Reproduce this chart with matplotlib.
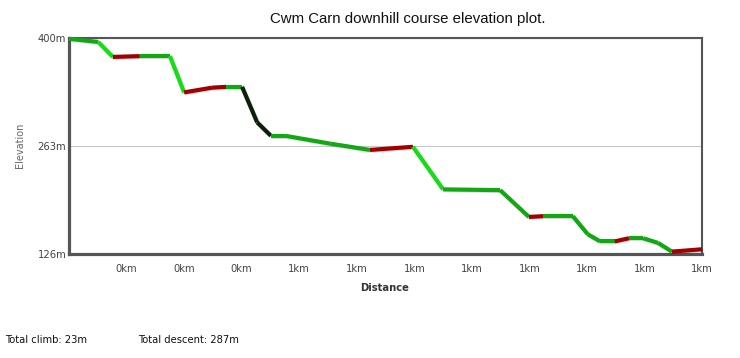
import numpy as np
import matplotlib
matplotlib.use("Agg")
import matplotlib.pyplot as plt
from matplotlib import patheffects as pe

# distance along the course (km) and elevation (m) at each vertex
distancia_km = [0.000, 0.066, 0.099, 0.160, 0.228, 0.260, 0.323, 0.355, 0.391,
                0.425, 0.456, 0.488, 0.590, 0.680, 0.777, 0.845, 0.974, 1.039,
                1.071, 1.138, 1.172, 1.200, 1.233, 1.265, 1.297, 1.331, 1.362,
                1.430]
elevacao_m = [399, 395, 376, 377, 377, 331, 337, 338, 338,
              293, 276, 276, 266, 258, 262, 208, 207, 173,
              174, 174, 151, 142, 142, 146, 146, 140, 129,
              132]
# gradient class of each segment between consecutive vertices
classe_segmento = ['suave', 'ingreme', 'subida', 'suave', 'ingreme', 'subida', 'subida',
                   'suave', 'muito', 'muito', 'suave', 'suave', 'suave', 'subida',
                   'ingreme', 'suave', 'suave', 'subida', 'suave', 'suave', 'suave',
                   'suave', 'subida', 'suave', 'suave', 'suave', 'subida']
ticks_y = [126, 263, 400]
total_subida = 23
total_descida = 287
distancia_total = distancia_km[-1]

cores = {'suave': '#12a812', 'ingreme': '#18dc18', 'subida': '#a00000', 'muito': '#0c200c'}

fig = plt.figure(figsize=(7.4, 3.58), dpi=100)
fig.patch.set_facecolor('white')
ax = fig.add_axes([69 / 740, 1 - 254 / 358, (702 - 69) / 740, (254 - 38) / 358])

# Desenhar cada segmento com a cor da sua classe
for i, classe in enumerate(classe_segmento):
    ax.plot(distancia_km[i:i + 2], elevacao_m[i:i + 2], color=cores[classe],
            linewidth=3.0, solid_capstyle='butt', solid_joinstyle='round', zorder=3,
            clip_on=False,
            path_effects=[pe.SimpleLineShadow(offset=(0.7, -0.7), alpha=0.12, shadow_color='black'),
                          pe.Normal()])

ax.set_xlim(0, distancia_total)
ax.set_ylim(ticks_y[0], ticks_y[-1])

ax.set_yticks(ticks_y)
ax.set_yticklabels([f'{v}m' for v in ticks_y])
ax.set_xticks(np.linspace(0, distancia_total, 12)[1:])
ax.xaxis.set_major_formatter(plt.FuncFormatter(lambda v, p: f'{v:.0f}km'))
ax.tick_params(length=0, labelsize=7.2, colors='#444444')
ax.tick_params(axis='x', pad=7)
ax.tick_params(axis='y', pad=2)

ax.grid(axis='y', color='#c8c8c8', linewidth=0.8)
ax.set_axisbelow(True)

for lado in ['left', 'bottom']:
    ax.spines[lado].set_linewidth(2.3)
    ax.spines[lado].set_color('#555555')
for lado in ['top', 'right']:
    ax.spines[lado].set_linewidth(1.5)
    ax.spines[lado].set_color('#555555')

fig.text(408 / 740, 1 - 19 / 358, 'Cwm Carn downhill course elevation plot.',
         ha='center', va='center', fontsize=10.8, family='Liberation Sans', color='#111111')
fig.text(20 / 740, 1 - 145 / 358, 'Elevation', rotation=90, ha='center', va='center',
         fontsize=7, color='#666666')
fig.text(385 / 740, 1 - 288 / 358, 'Distance', ha='center', va='center',
         fontsize=7.2, fontweight='bold', color='#333333')
fig.text(5 / 740, 1 - 340 / 358, f'Total climb: {total_subida}m', ha='left', va='center',
         fontsize=7.2, color='#111111')
fig.text(138 / 740, 1 - 340 / 358, f'Total descent: {total_descida}m', ha='left', va='center',
         fontsize=7.2, color='#111111')

fig.savefig('out.png', dpi=100)
